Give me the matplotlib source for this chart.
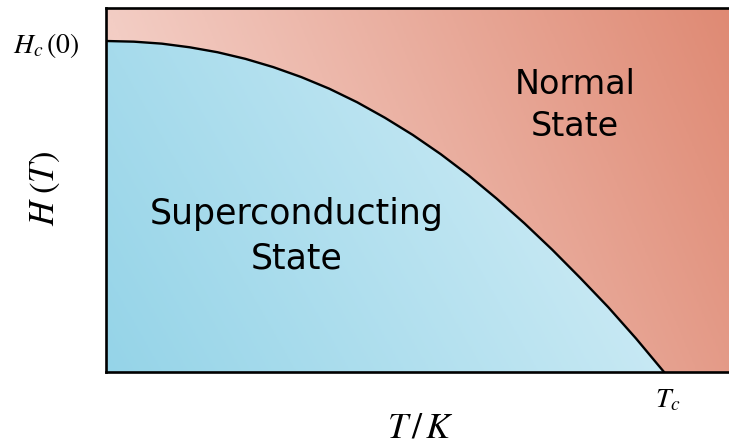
import matplotlib
matplotlib.use("Agg")
import matplotlib.pyplot as plt
import numpy as np
from matplotlib.patches import Polygon
from matplotlib.colors import LinearSegmentedColormap

# critical field curve (T in units of Tc, H in units of Hc(0))
t_over_tc = [0.0, 0.05, 0.1, 0.15, 0.2, 0.25, 0.3, 0.35, 0.4, 0.45, 0.5,
             0.55, 0.6, 0.65, 0.7, 0.75, 0.8, 0.85, 0.9, 0.95, 1.0]
h_over_hc = [1.0, 0.998, 0.992, 0.981, 0.966, 0.946, 0.921, 0.891, 0.856, 0.815, 0.768,
             0.716, 0.658, 0.594, 0.524, 0.449, 0.369, 0.284, 0.196, 0.101, 0.0]

region_labels = ["Superconducting\nState", "Normal\nState"]

x_max = 1.1165
y_max = 1.0997

plt.rcParams['mathtext.fontset'] = 'stix'

fig = plt.figure(figsize=(7.29, 4.46), dpi=100)
ax = fig.add_axes([106 / 729, 74 / 446, 623 / 729, 364 / 446])
ax.set_xlim(0, x_max)
ax.set_ylim(0, y_max)

curve = np.column_stack([t_over_tc, h_over_hc])

# polygons for the two phases
sc_poly = np.vstack([curve, [[0, 0]]])
normal_poly = np.vstack([curve, [[x_max, 0], [x_max, y_max], [0, y_max]]])

sc_patch = Polygon(sc_poly, closed=True, facecolor='none', edgecolor='none')
nm_patch = Polygon(normal_poly, closed=True, facecolor='none', edgecolor='none')
ax.add_patch(sc_patch)
ax.add_patch(nm_patch)

# gradient images
xf, yf = np.meshgrid(np.linspace(0, 1, 400), np.linspace(0, 1, 250))

blue = LinearSegmentedColormap.from_list('blue', ['#95d4e8', '#cdebf5'])
u_blue = np.clip((0.75 * xf + 0.25 * yf) / 0.75, 0, 1)
im_b = ax.imshow(u_blue, cmap=blue, origin='lower', extent=[0, x_max, 0, y_max],
                 aspect='auto', interpolation='bilinear', vmin=0, vmax=1)
im_b.set_clip_path(sc_patch)

red = LinearSegmentedColormap.from_list('red', ['#f3cdc4', '#df8a74'])
u_red = np.clip((0.8 * xf + 0.2 * yf - 0.2) / 0.8, 0, 1)
im_r = ax.imshow(u_red, cmap=red, origin='lower', extent=[0, x_max, 0, y_max],
                 aspect='auto', interpolation='bilinear', vmin=0, vmax=1)
im_r.set_clip_path(nm_patch)

ax.plot(t_over_tc, h_over_hc, color='black', lw=1.7, solid_joinstyle='round')

for side in ['left', 'top', 'bottom']:
    ax.spines[side].set_linewidth(1.9)
    ax.spines[side].set_zorder(5)
ax.spines['right'].set_visible(False)
ax.set_xticks([])
ax.set_yticks([])

# region labels
ax.text(0.3066, 0.372, region_labels[0], transform=ax.transAxes, ha='center', va='center',
        fontsize=25, family='DejaVu Sans', linespacing=1.4)
ax.text(0.753, 0.731, region_labels[1], transform=ax.transAxes, ha='center', va='center',
        fontsize=24, family='DejaVu Sans', linespacing=1.35)

# axis annotations
fig.text(13 / 729, 1 - 53 / 446, r'$\mathit{H_c\,(0)}$', fontsize=20, ha='left', va='baseline')
fig.text(655 / 729, 1 - 407 / 446, r'$\mathit{T_c}$', fontsize=20, ha='left', va='baseline')
fig.text(45 / 729, 1 - 188 / 446, r'$\mathit{H\;(T)}$', fontsize=25, rotation=90,
         ha='center', va='center')
fig.text(420 / 729, 1 - 438 / 446, r'$\mathit{T\,/\,K}$', fontsize=26, ha='center', va='baseline')

fig.savefig('out.png', dpi=100)
